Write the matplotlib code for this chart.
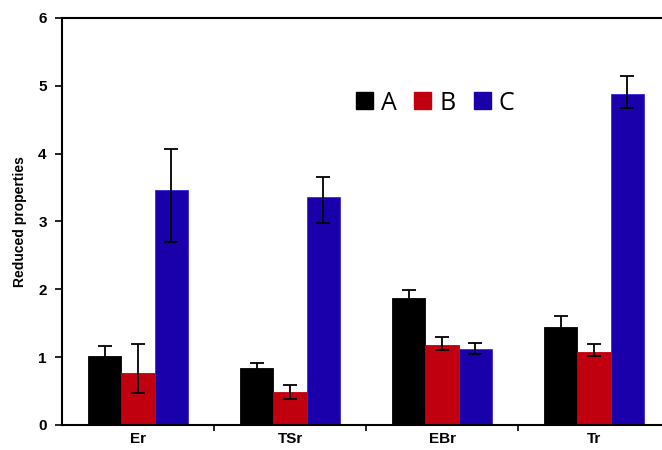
import matplotlib
matplotlib.use("Agg")
import matplotlib.pyplot as plt
import numpy as np
from matplotlib.patches import Patch

categories = ["Er", "TSr", "EBr", "Tr"]
series = ["A", "B", "C"]
A_vals = [1.02, 0.84, 1.87, 1.45]
B_vals = [0.76, 0.48, 1.18, 1.08]
C_vals = [3.46, 3.36, 1.12, 4.88]
A_err_lo = [0.15, 0.08, 0.12, 0.16]
A_err_hi = [0.15, 0.08, 0.12, 0.16]
B_err_lo = [0.29, 0.09, 0.07, 0.06]
B_err_hi = [0.43, 0.11, 0.11, 0.12]
C_err_lo = [0.76, 0.38, 0.08, 0.21]
C_err_hi = [0.61, 0.29, 0.09, 0.26]
colors = ["#000000", "#C0000E", "#1A00AA"]
edges = ["#000000", "#C0000E", "#3A2AE0"]

fig = plt.figure(figsize=(6.62, 4.5), dpi=100)
ax = fig.add_axes([62/662, 25/450, 1 - 62/662, 407/450])

x = np.arange(len(categories))
w = 0.22
vals = [A_vals, B_vals, C_vals]
errs = [(A_err_lo, A_err_hi), (B_err_lo, B_err_hi), (C_err_lo, C_err_hi)]
for i in range(3):
    ax.bar(x + (i - 1) * w, vals[i], w, color=colors[i], edgecolor=edges[i], linewidth=0.6,
           yerr=[errs[i][0], errs[i][1]], error_kw=dict(ecolor="black", elinewidth=1.3, capsize=5, capthick=1.3),
           zorder=2)

ax.set_xlim(-0.5, 3.447)
ax.set_ylim(0, 6)
ax.set_yticks(range(7))
ax.set_xticks(x)
ax.set_xticklabels(categories)
ax.set_xticks([0.5, 1.5, 2.5], minor=True)
ax.tick_params(axis="x", which="major", length=0, pad=5)
ax.tick_params(axis="x", which="minor", length=4, width=1.2, direction="out")
ax.tick_params(axis="y", length=5, width=1.2, direction="out", pad=6)
for lab in ax.get_xticklabels() + ax.get_yticklabels():
    lab.set_fontweight("bold")
    lab.set_fontsize(11)
    lab.set_fontfamily("Liberation Sans")
ax.spines["right"].set_visible(False)
for s in ["left", "bottom", "top"]:
    ax.spines[s].set_linewidth(1.5)
ax.set_ylabel("Reduced properties", fontsize=10, fontweight="bold", fontfamily="Liberation Sans", labelpad=8)

handles = [Patch(facecolor=c, edgecolor=c) for c in colors]
leg = ax.legend(handles, series, ncol=3, frameon=False, loc="center",
                bbox_to_anchor=(435/662, 1 - 103/450), bbox_transform=fig.transFigure,
                prop=dict(family="Open Sans", size=18), handlelength=0.68, handleheight=0.68,
                handletextpad=0.32, columnspacing=0.72, borderpad=0)

fig.savefig("out.png", dpi=100)
